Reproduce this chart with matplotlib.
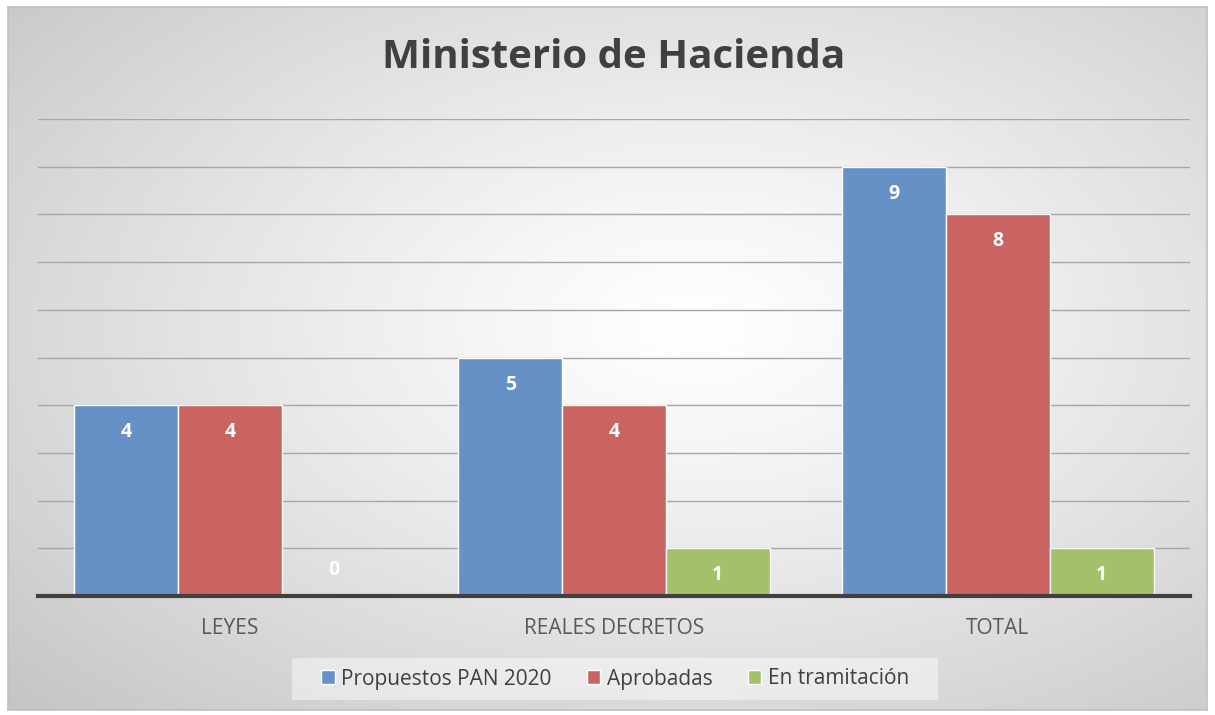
import numpy as np
import matplotlib.pyplot as plt
from matplotlib.patches import Rectangle

categories = ['LEYES', 'REALES DECRETOS', 'TOTAL']
series = ['Propuestos PAN 2020', 'Aprobadas', 'En tramitación']
propuestos = [4, 5, 9]
aprobadas = [4, 4, 8]
tramitacion = [0, 1, 1]
colors = ['#6591c7', '#c96462', '#a3c16a']

W, H = 1215, 715
fig = plt.figure(figsize=(W / 100, H / 100), dpi=100)
fig.patch.set_facecolor('white')

# background with radial gradient, framed
bx0, by0, bx1, by1 = 8, 7, 1207, 710
bg = fig.add_axes([bx0 / W, 1 - by1 / H, (bx1 - bx0) / W, (by1 - by0) / H])
yy, xx = np.mgrid[0:300, 0:500]
cx, cy = 0.57 * 500, 0.45 * 300
d = np.sqrt(((xx - cx) / 500) ** 2 + ((yy - cy) / 300) ** 2)
d = np.clip(d / d.max(), 0, 1)
shade = 1.0 - 0.23 * d ** 1.2
bg.imshow(np.dstack([shade] * 3), aspect='auto', extent=[0, 1, 0, 1], origin='upper')
bg.set_xticks([])
bg.set_yticks([])
for s in bg.spines.values():
    s.set_color('#c0c0c0')
    s.set_linewidth(1.2)

ax = fig.add_axes([38 / W, 1 - 596 / H, (1190 - 38) / W, (596 - 119) / H])
ax.patch.set_alpha(0)

x = np.arange(len(categories))
w = 0.27
for i, (vals, name) in enumerate(zip([propuestos, aprobadas, tramitacion], series)):
    bars = ax.bar(x + (i - 1) * w, vals, w, color=colors[i], edgecolor='white',
                  linewidth=1, label=name, zorder=3)
    for b, v in zip(bars, vals):
        off = -27 if v > 0 else 26
        ax.annotate(str(v), (b.get_x() + b.get_width() / 2, v), xytext=(0, off),
                    textcoords='offset pixels', ha='center', va='center',
                    color='white', fontsize=14, fontweight='bold',
                    family='Open Sans', zorder=4)

ax.set_xlim(-0.5, 2.5)
ax.set_ylim(0, 10)
ax.set_yticks(range(0, 11))
ax.yaxis.grid(True, color='#a6a6a6', linewidth=1, zorder=1)
ax.tick_params(axis='y', left=False, labelleft=False)
ax.tick_params(axis='x', bottom=False, pad=12)
ax.set_xticks(x)
ax.set_xticklabels(categories, fontsize=15, color='#595959', family='Open Sans')
for s in ['top', 'right', 'left']:
    ax.spines[s].set_visible(False)
ax.spines['bottom'].set_color('#404040')
ax.spines['bottom'].set_linewidth(3)
ax.spines['bottom'].set_zorder(5)

fig.text(614 / W, 1 - 58 / H, 'Ministerio de Hacienda', ha='center', va='center',
         fontsize=29, fontweight='bold', color='#404040', family='Open Sans')

# legend box
fig.patches.append(Rectangle((292 / W, 1 - 700 / H), (938 - 292) / W, 42 / H,
                             transform=fig.transFigure, facecolor='white',
                             alpha=0.45, edgecolor='none'))
leg = fig.legend(loc='center', bbox_to_anchor=(615 / W, 1 - 679 / H), ncol=3,
                 frameon=False, prop={'family': 'Open Sans', 'size': 15},
                 handlelength=0.65, handleheight=0.65, handletextpad=0.3,
                 columnspacing=1.7)
for t in leg.get_texts():
    t.set_color('#404040')

fig.savefig('out.png', dpi=100)
